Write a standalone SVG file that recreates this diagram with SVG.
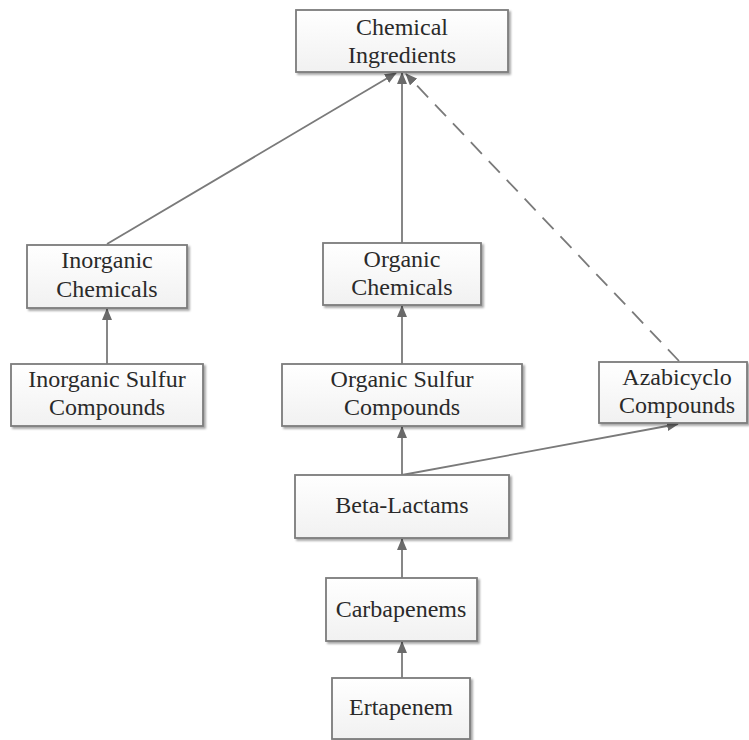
<svg xmlns="http://www.w3.org/2000/svg" width="749" height="740" viewBox="0 0 749 740">
  <defs>
    <linearGradient id="boxFill" x1="0" y1="0" x2="0" y2="1">
      <stop offset="0" stop-color="#ffffff"/>
      <stop offset="1" stop-color="#f1f1f1"/>
    </linearGradient>
    <filter id="shadow" x="-10%" y="-10%" width="130%" height="140%">
      <feGaussianBlur in="SourceAlpha" stdDeviation="1.2"/>
      <feOffset dx="1.5" dy="1.5" result="blur"/>
      <feComponentTransfer><feFuncA type="linear" slope="0.35"/></feComponentTransfer>
      <feMerge><feMergeNode/><feMergeNode in="SourceGraphic"/></feMerge>
    </filter>
    <marker id="arrow" viewBox="0 0 12 10" refX="11" refY="5" markerWidth="12" markerHeight="10" markerUnits="userSpaceOnUse" orient="auto">
      <path d="M0,0 L12,5 L0,10 Z" fill="#6a6a6a"/>
    </marker>
  </defs>
  <style>
    .box { fill: url(#boxFill); stroke: #7c7c7c; stroke-width: 1.8; filter: url(#shadow); }
    text { font-family: 'Liberation Serif', 'DejaVu Serif', 'Times New Roman', serif; font-size: 24px; fill: #2a2a2a; text-anchor: middle; }
    .edge { fill: none; stroke: #7a7a7a; stroke-width: 1.8; marker-end: url(#arrow); }
    .dashed { stroke-dasharray: 16 10; }
  </style>
  <rect width="749" height="740" fill="#ffffff"/>

  <g id="connectors">
    <line class="edge" x1="107" y1="244" x2="396" y2="73"/>
    <line class="edge" x1="402" y1="243" x2="402" y2="73"/>
    <line class="edge dashed" x1="679" y1="361" x2="406" y2="74"/>
    <line class="edge" x1="107" y1="364" x2="107" y2="309"/>
    <line class="edge" x1="402" y1="364" x2="402" y2="306"/>
    <line class="edge" x1="402" y1="475" x2="402" y2="427"/>
    <line class="edge" x1="402" y1="475" x2="678" y2="424"/>
    <line class="edge" x1="402" y1="578" x2="402" y2="539"/>
    <line class="edge" x1="402" y1="678" x2="402" y2="642"/>
  </g>

  <g id="chemical-ingredients">
    <rect class="box" x="296" y="10" width="212" height="62"/>
    <text x="402" y="35" font-family="Liberation Serif, serif">Chemical</text>
    <text x="402" y="63" font-family="Liberation Serif, serif">Ingredients</text>
  </g>

  <g id="inorganic-chemicals">
    <rect class="box" x="27" y="245" width="160" height="63"/>
    <text x="107" y="268">Inorganic</text>
    <text x="107" y="297">Chemicals</text>
  </g>

  <g id="organic-chemicals">
    <rect class="box" x="323" y="243" width="158" height="62"/>
    <text x="402" y="267">Organic</text>
    <text x="402" y="295">Chemicals</text>
  </g>

  <g id="inorganic-sulfur-compounds">
    <rect class="box" x="11" y="364" width="192" height="62"/>
    <text x="107" y="387">Inorganic Sulfur</text>
    <text x="107" y="415">Compounds</text>
  </g>

  <g id="organic-sulfur-compounds">
    <rect class="box" x="282" y="364" width="240" height="62"/>
    <text x="402" y="387">Organic Sulfur</text>
    <text x="402" y="415">Compounds</text>
  </g>

  <g id="azabicyclo-compounds">
    <rect class="box" x="599" y="362" width="148" height="61"/>
    <text x="677" y="385">Azabicyclo</text>
    <text x="677" y="413">Compounds</text>
  </g>

  <g id="beta-lactams">
    <rect class="box" x="295" y="475" width="214" height="63"/>
    <text x="402" y="513">Beta-Lactams</text>
  </g>

  <g id="carbapenems">
    <rect class="box" x="326" y="578" width="151" height="63"/>
    <text x="401" y="617">Carbapenems</text>
  </g>

  <g id="ertapenem">
    <rect class="box" x="332" y="678" width="138" height="61"/>
    <text x="401" y="715">Ertapenem</text>
  </g>
</svg>
